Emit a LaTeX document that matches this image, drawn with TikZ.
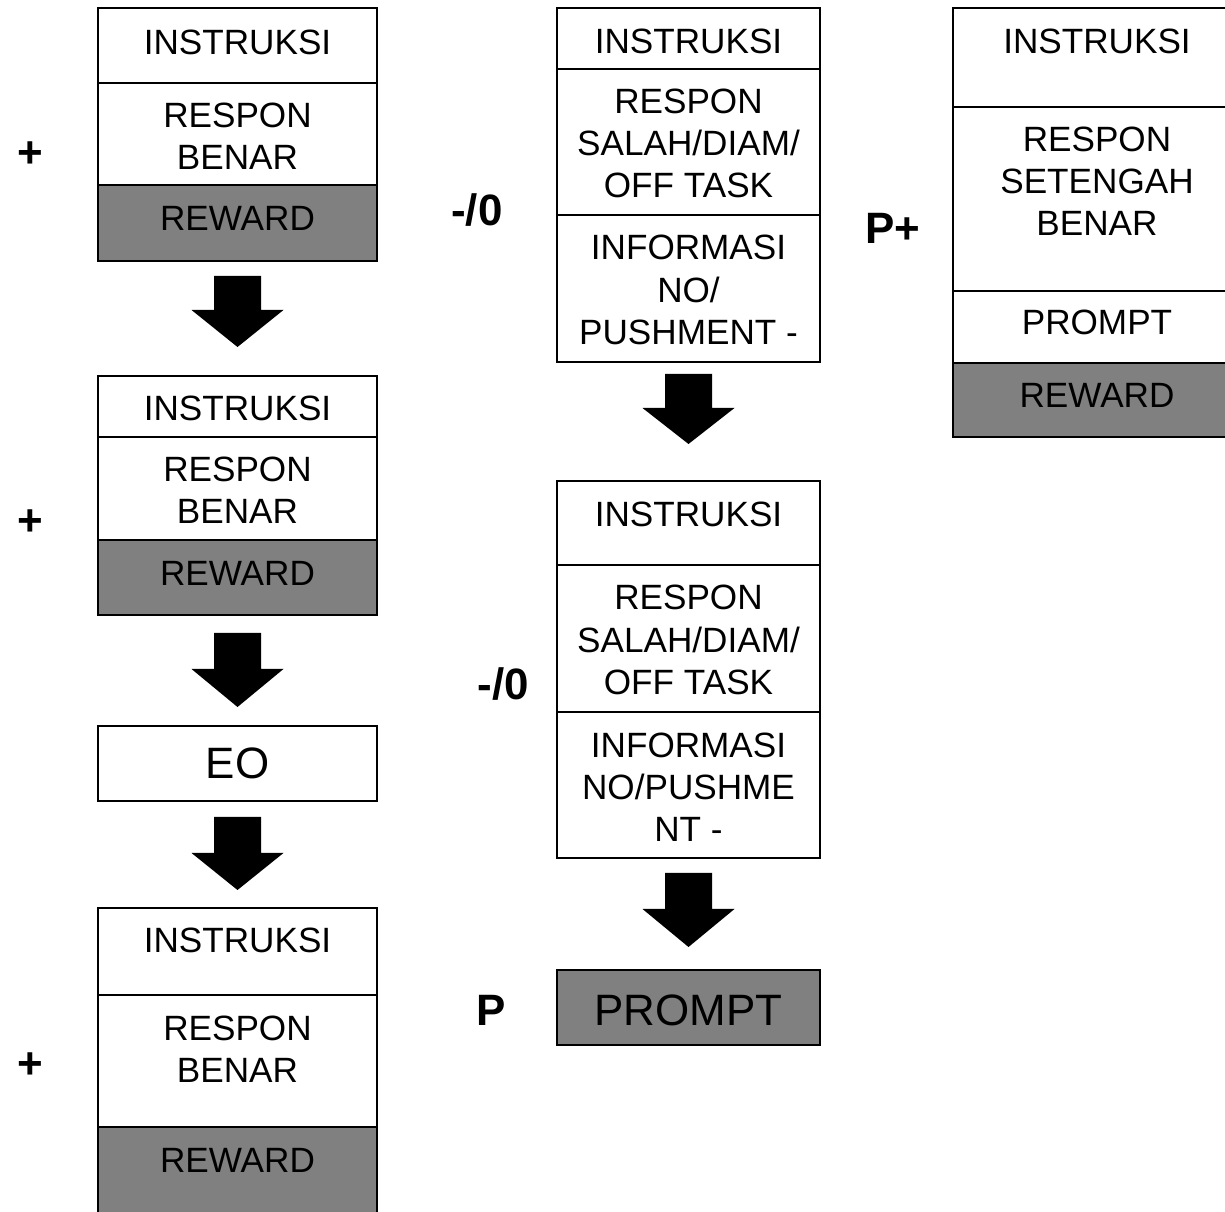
\documentclass[tikz,border=0pt]{standalone}
\usepackage{fontspec}
\setmainfont{Liberation Sans}
\usetikzlibrary{positioning}
\definecolor{rewardgray}{RGB}{128,128,128}

\begin{document}
\begin{tikzpicture}[x=0.02cm,y=-0.02cm,line width=1.1pt,
  cell/.style={draw=black},
  shaded/.style={draw=black,fill=rewardgray},
  txt/.style={inner sep=0pt,align=center,font=\fontsize{20}{24}\selectfont},
  big/.style={inner sep=0pt,font=\fontsize{25}{30}\selectfont},
  sign/.style={inner sep=0pt,font=\fontsize{25}{30}\selectfont\bfseries}]
\useasboundingbox (0,0) rectangle (1225,1212);
% left column
\draw[cell] (98,8) rectangle (377,83);
\draw[cell] (98,83) rectangle (377,185);
\draw[shaded] (98,185) rectangle (377,261);
\node[txt] (ins1) at (237.5,42) {INSTRUKSI};
\node[txt] (res1) at (237.5,136) {RESPON\\BENAR};
\node[txt] (rew1) at (237.5,218) {REWARD};
\node[sign] (plus1) at (30,155) {+};
\fill (214,276) -- ++(47,0) -- ++(0,34) -- ++(22.5,0) -- ++(-46,37) -- ++(-46,-37) -- ++(22.5,0) -- cycle;
\draw[cell] (98,376) rectangle (377,437);
\draw[cell] (98,437) rectangle (377,540);
\draw[shaded] (98,540) rectangle (377,615);
\node[txt] (ins2) at (237.5,408) {INSTRUKSI};
\node[txt] (res2) at (237.5,490) {RESPON\\BENAR};
\node[txt] (rew2) at (237.5,573) {REWARD};
\node[sign] (plus2) at (30,523) {+};
\fill (214,633) -- ++(47,0) -- ++(0,36) -- ++(22.5,0) -- ++(-46,38) -- ++(-46,-38) -- ++(22.5,0) -- cycle;
\draw[cell] (98,726) rectangle (377,801);
\node[big] (eo) at (237.5,763) {EO};
\fill (214,817) -- ++(47,0) -- ++(0,36) -- ++(22.5,0) -- ++(-46,37) -- ++(-46,-37) -- ++(22.5,0) -- cycle;
\draw[cell] (98,908) rectangle (377,995);
\draw[cell] (98,995) rectangle (377,1127);
\draw[shaded] (98,1127) rectangle (377,1225);
\node[txt] (ins3) at (237.5,940) {INSTRUKSI};
\node[txt] (res3) at (237.5,1049) {RESPON\\BENAR};
\node[txt] (rew3) at (237.5,1160) {REWARD};
\node[sign] (plus3) at (30,1066) {+};
% middle column
\draw[cell] (557,8) rectangle (820,69);
\draw[cell] (557,69) rectangle (820,215);
\draw[cell] (557,215) rectangle (820,362);
\node[txt] (ins4) at (688.5,41) {INSTRUKSI};
\node[txt] (sal4) at (688.5,143.5) {RESPON\\SALAH/DIAM/\\OFF TASK};
\node[txt] (inf4) at (688.5,290) {INFORMASI\\NO/\\PUSHMENT -};
\node[sign] (neg1) at (477,210) {-/0};
\fill (665,374) -- ++(47,0) -- ++(0,34) -- ++(22.5,0) -- ++(-46,36) -- ++(-46,-36) -- ++(22.5,0) -- cycle;
\draw[cell] (557,481) rectangle (820,565);
\draw[cell] (557,565) rectangle (820,712);
\draw[cell] (557,712) rectangle (820,858);
\node[txt] (ins5) at (688.5,514) {INSTRUKSI};
\node[txt] (sal5) at (688.5,640) {RESPON\\SALAH/DIAM/\\OFF TASK};
\node[txt] (inf5) at (688.5,787) {INFORMASI\\NO/PUSHME\\NT -};
\node[sign] (neg2) at (503,684) {-/0};
\fill (665,873) -- ++(47,0) -- ++(0,36) -- ++(22.5,0) -- ++(-46,38) -- ++(-46,-38) -- ++(22.5,0) -- cycle;
\draw[shaded] (557,970) rectangle (820,1045);
\node[big] (pr) at (688.5,1010) {PROMPT};
\node[sign] (p) at (491,1010) {P};
% right column
\draw[cell] (953,8) rectangle (1240,107);
\draw[cell] (953,107) rectangle (1240,291);
\draw[cell] (953,291) rectangle (1240,363);
\draw[shaded] (953,363) rectangle (1240,437);
\node[txt] (ins6) at (1097,41) {INSTRUKSI};
\node[txt] (set6) at (1097,181) {RESPON\\SETENGAH\\BENAR};
\node[txt] (pr6) at (1097,322) {PROMPT};
\node[txt] (rew6) at (1097,395) {REWARD};
\node[sign] (pplus) at (893,228) {P+};
\end{tikzpicture}
\end{document}
